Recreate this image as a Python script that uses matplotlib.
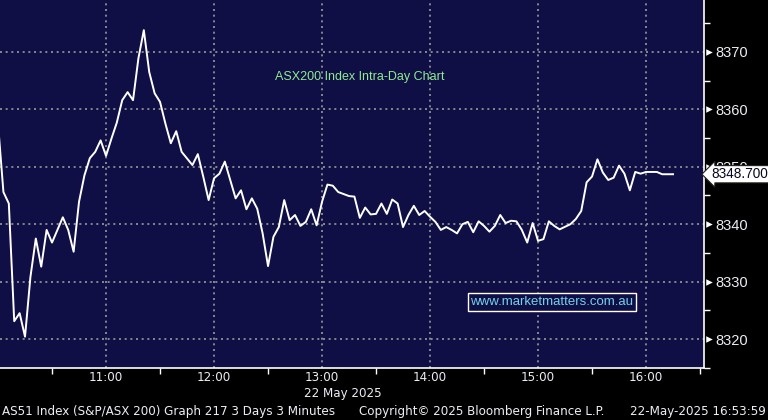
import matplotlib
matplotlib.use("Agg")
import matplotlib.pyplot as plt
from matplotlib.ticker import FixedLocator, NullFormatter
from matplotlib.transforms import blended_transform_factory

# ASX200 intraday, 3 minute bars, 22 May 2025
times = ["10:00", "10:03", "10:06", "10:09", "10:12", "10:15", "10:18", "10:21", "10:24", "10:27",
         "10:30", "10:36", "10:39", "10:42", "10:45", "10:48", "10:51", "10:54", "10:57",
         "11:00", "11:03", "11:06", "11:09", "11:12", "11:15", "11:18", "11:21", "11:24", "11:27",
         "11:30", "11:33", "11:36", "11:39", "11:42", "11:48", "11:51", "11:54", "11:57",
         "12:00", "12:03", "12:06", "12:12", "12:15", "12:18", "12:21", "12:24", "12:27", "12:30",
         "12:33", "12:36", "12:39", "12:42", "12:45", "12:48", "12:51", "12:54", "12:57",
         "13:00", "13:03", "13:06", "13:09", "13:15", "13:18", "13:21", "13:24", "13:27", "13:30",
         "13:33", "13:36", "13:39", "13:42", "13:45", "13:48", "13:51", "13:54", "13:57",
         "14:00", "14:03", "14:06", "14:09", "14:12", "14:15", "14:18", "14:21", "14:24", "14:27",
         "14:30", "14:33", "14:36", "14:39", "14:42", "14:45", "14:48", "14:51", "14:54", "14:57",
         "15:00", "15:03", "15:06", "15:09", "15:12", "15:18", "15:21", "15:24", "15:27", "15:30",
         "15:33", "15:36", "15:39", "15:42", "15:45", "15:48", "15:51", "15:54", "15:57",
         "16:00", "16:06", "16:09", "16:15"]
prices = [8357.5, 8345.6, 8343.6, 8323.1, 8324.5, 8320.4, 8330.8, 8337.5, 8332.6, 8339.0,
          8336.8, 8341.2, 8339.0, 8335.2, 8343.9, 8348.5, 8351.5, 8352.6, 8354.6,
          8351.9, 8354.9, 8357.7, 8361.6, 8363.0, 8361.6, 8368.9, 8373.8, 8366.5, 8362.8,
          8361.3, 8357.5, 8354.1, 8356.2, 8352.6, 8350.3, 8352.2, 8348.3, 8344.2,
          8348.0, 8348.8, 8350.9, 8344.5, 8345.9, 8342.6, 8344.5, 8342.7, 8338.4, 8332.7,
          8337.8, 8339.5, 8344.2, 8340.7, 8341.6, 8339.7, 8340.4, 8342.6, 8339.8,
          8343.9, 8346.9, 8346.7, 8345.6, 8344.9, 8344.8, 8341.1, 8342.9, 8341.7, 8341.8,
          8343.6, 8341.8, 8344.3, 8343.6, 8339.5, 8341.6, 8343.2, 8341.6, 8342.3,
          8341.3, 8340.4, 8339.0, 8339.5, 8339.0, 8338.4, 8340.0, 8340.4, 8338.6, 8340.5,
          8339.7, 8338.7, 8339.7, 8341.6, 8340.2, 8340.6, 8340.5, 8339.0, 8336.8, 8340.2,
          8337.1, 8337.4, 8340.5, 8339.7, 8339.1, 8340.0, 8340.9, 8342.3, 8347.3, 8348.3,
          8351.3, 8349.0, 8347.7, 8348.1, 8350.2, 8348.8, 8345.9, 8349.1, 8348.8,
          8349.1, 8349.1, 8348.7, 8348.7]
last_price = 8348.7

hour_labels = ["11:00", "12:00", "13:00", "14:00", "15:00", "16:00"]
price_ticks = [8320, 8330, 8340, 8350, 8360, 8370]

title = "ASX200 Index Intra-Day Chart"
date_label = "22 May 2025"
footer_left = "AS51 Index (S&P/ASX 200) Graph 217 3 Days 3 Minutes"
footer_mid = "Copyright\u00a9 2025 Bloomberg Finance L.P."
footer_right = "22-May-2025 16:53:59"
watermark = "www.marketmatters.com.au"


def minutes(s):
    h, m = s.split(":")
    return (int(h) - 10) * 60 + int(m)


x = [minutes(t) for t in times]
hour_pos = [minutes(t) for t in hour_labels]
half_pos = [p - 30 for p in hour_pos] + [hour_pos[-1] + 30]

narrow = dict(family=["DejaVu Sans"], stretch="condensed")
arial = dict(family=["Liberation Sans", "DejaVu Sans"])
bg = "#0f0e45"
fg = "#ececf4"

fig = plt.figure(figsize=(7.68, 4.20), dpi=100, facecolor="black")
ax = fig.add_axes([0.0, 1 - 368 / 420, 704 / 768, 368 / 420], facecolor=bg)

ax.plot(x, prices, color="white", lw=1.4, zorder=3)

ax.set_xlim(1.1, 392.2)
ax.set_ylim(8314.95, 8379.05)

for s in ["left", "top"]:
    ax.spines[s].set_visible(False)
for s in ["right", "bottom"]:
    ax.spines[s].set_color("white")
    ax.spines[s].set_linewidth(1.2)

ax.xaxis.set_major_locator(FixedLocator(hour_pos))
ax.set_xticklabels(hour_labels, color=fg, fontsize=9.5, **narrow)
ax.xaxis.set_minor_locator(FixedLocator(half_pos))
ax.xaxis.set_minor_formatter(NullFormatter())
ax.tick_params(axis="x", which="major", length=0, pad=2)
ax.tick_params(axis="x", which="minor", length=4, width=1, color="white", direction="out")

ax.yaxis.tick_right()
ax.yaxis.set_major_locator(FixedLocator(price_ticks))
ax.set_yticklabels([str(p) for p in price_ticks], color=fg, fontsize=10.5, **arial)
ax.yaxis.set_minor_locator(FixedLocator([p + 5 for p in [8310] + price_ticks]))
ax.yaxis.set_minor_formatter(NullFormatter())
ax.tick_params(axis="y", which="major", length=0, pad=8)
ax.tick_params(axis="y", which="minor", length=4, width=1, color="white", direction="out")

ax.grid(True, which="major", color="#9a9a9a", lw=1.2, linestyle=(0, (1.2, 2.2)))

# little arrow heads next to the price labels
tr = blended_transform_factory(ax.transAxes, ax.transData)
ax.scatter([1.007] * len(price_ticks), price_ticks, transform=tr, marker=">", s=22,
           color="white", clip_on=False, zorder=5, linewidths=0)

# last price tag
ax.text(711 / 704, last_price, f"{last_price:.3f}", transform=tr, va="center", ha="left",
        fontsize=9.8, color="#050520", clip_on=False, zorder=6, **arial,
        bbox=dict(boxstyle="larrow,pad=0.12", fc="white", ec="#202020", lw=0.8))

ax.text(360 / 704, 1 - 77 / 368, title, transform=ax.transAxes, ha="center", va="center",
        color="#8fec8f", fontsize=9, **arial)

ax.text(552 / 704, 1 - 302 / 368, watermark, transform=ax.transAxes, ha="center", va="center",
        color="#72d2ec", fontsize=9.5, **arial,
        bbox=dict(boxstyle="square,pad=0.2", fc=bg, ec="white", lw=1))

fig.text(343 / 768, 1 - 393 / 420, date_label, ha="center", va="center", color=fg, fontsize=9.5, **narrow)
fig.text(2 / 768, 1 - 411 / 420, footer_left, ha="left", va="center", color=fg, fontsize=9.5, **narrow)
fig.text(482 / 768, 1 - 411 / 420, footer_mid, ha="center", va="center", color=fg, fontsize=9.5, **narrow)
fig.text(766 / 768, 1 - 411 / 420, footer_right, ha="right", va="center", color=fg, fontsize=9.5, **narrow)

fig.savefig("out.png", dpi=100, facecolor="black")
